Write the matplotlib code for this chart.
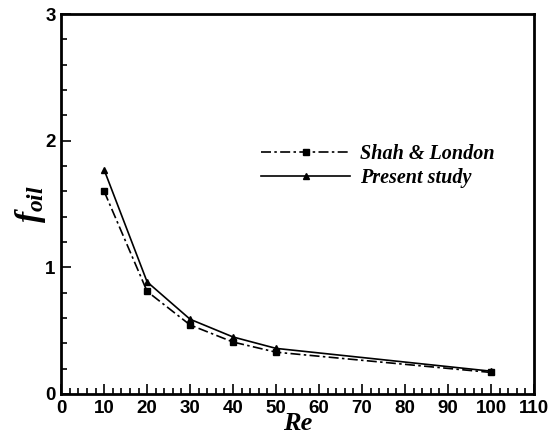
import numpy as np
import matplotlib.pyplot as plt
from matplotlib.ticker import MultipleLocator

plt.rcParams['mathtext.fontset'] = 'custom'
plt.rcParams['mathtext.it'] = 'Liberation Serif:bold:italic'
plt.rcParams['mathtext.rm'] = 'Liberation Serif:bold:italic'
plt.rcParams['mathtext.bf'] = 'Liberation Serif:bold:italic'

# data
re_vals = [10, 20, 30, 40, 50, 100]
f_shah = [1.60, 0.81, 0.545, 0.41, 0.33, 0.17]
f_present = [1.77, 0.885, 0.59, 0.45, 0.36, 0.18]

fig = plt.figure(figsize=(5.51, 4.38), dpi=100)
ax = fig.add_axes([0.111, 0.1005, 0.858, 0.8675])

ax.plot(re_vals, f_shah, color='black', lw=1.2, dashes=(6, 2, 1.5, 2),
        marker='s', ms=4, label='Shah & London')
ax.plot(re_vals, f_present, color='black', lw=1.2, ls='-',
        marker='^', ms=4.5, label='Present study')

ax.set_xlim(0, 110)
ax.set_ylim(0, 3)
ax.xaxis.set_major_locator(MultipleLocator(10))
ax.xaxis.set_minor_locator(MultipleLocator(2))
ax.yaxis.set_major_locator(MultipleLocator(1))
ax.yaxis.set_minor_locator(MultipleLocator(0.2))
ax.tick_params(which='both', direction='in', top=False, right=False,
               width=1.2, color='black')
ax.tick_params(which='major', length=7, pad=4)
ax.tick_params(which='minor', length=4)
for s in ax.spines.values():
    s.set_linewidth(2)

for lab in ax.get_xticklabels() + ax.get_yticklabels():
    lab.set_fontfamily('Liberation Sans')
    lab.set_fontweight('bold')
    lab.set_fontsize(13.5)

ax.set_xlabel('Re', fontfamily='Liberation Serif', fontweight='bold',
              fontstyle='italic', fontsize=19, labelpad=-3)
ax.set_ylabel(r'$f_{oil}$', fontsize=24, labelpad=-2)

leg = ax.legend(loc='upper left', bbox_to_anchor=(0.385, 0.706), frameon=False,
                handlelength=4.4, handletextpad=0.5, labelspacing=0.2,
                prop={'family': 'Liberation Serif', 'weight': 'bold',
                      'style': 'italic', 'size': 14.5})

fig.savefig('out.png', dpi=100)
